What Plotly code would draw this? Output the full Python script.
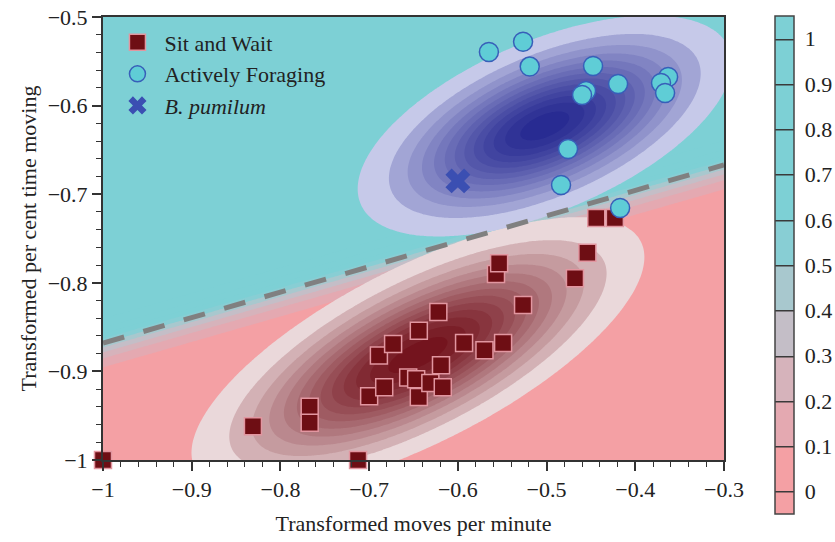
import numpy as np
import plotly.graph_objects as go

# ---------------- data ----------------
sit_x = [-1.0, -0.7125, -0.831, -0.767, -0.767, -0.700, -0.683, -0.689, -0.673,
         -0.656, -0.647, -0.644, -0.631, -0.617, -0.619, -0.644, -0.622, -0.593,
         -0.570, -0.549, -0.5265, -0.557, -0.5535, -0.468, -0.454, -0.444, -0.423]
sit_y = [-1.0, -1.0, -0.962, -0.940, -0.958, -0.928, -0.918, -0.882, -0.869,
         -0.907, -0.909, -0.929, -0.913, -0.918, -0.893, -0.854, -0.833, -0.868,
         -0.876, -0.868, -0.825, -0.790, -0.778, -0.795, -0.766, -0.727, -0.727]

active_x = [-0.565, -0.5265, -0.519, -0.4476, -0.4555, -0.460, -0.4194, -0.363,
            -0.371, -0.3664, -0.4758, -0.4837, -0.4171]
active_y = [-0.5395, -0.528, -0.556, -0.5553, -0.5835, -0.588, -0.5756, -0.5677,
            -0.5745, -0.5858, -0.649, -0.6896, -0.7156]

pumilum_x = [-0.600]
pumilum_y = [-0.685]

# decision boundary (dashed line)
boundary_x = [-1.0, -0.3]
boundary_y = [-0.868, -0.667]

# density ellipses: centre x, centre y, outer semi-major, outer semi-minor, angle (deg)
active_ellipse = [-0.502, -0.623, 0.2255, 0.0959, 23.0]
sit_ellipse = [-0.645, -0.8815, 0.282, 0.0993, 27.0]

x_ticks = [-1.0, -0.9, -0.8, -0.7, -0.6, -0.5, -0.4, -0.3]
y_ticks = [-1.0, -0.9, -0.8, -0.7, -0.6, -0.5]
cbar_ticks = [0, 0.1, 0.2, 0.3, 0.4, 0.5, 0.6, 0.7, 0.8, 0.9, 1]
cbar_labels = ["0", "0.1", "0.2", "0.3", "0.4", "0.5", "0.6", "0.7", "0.8", "0.9", "1"]

# ---------------- styling ----------------
FONT = "Liberation Serif"
FS = 22
PINK = "rgb(244,160,164)"
CYAN = "rgb(125,208,213)"
prob_band_colors = [PINK, "rgb(228,169,177)", "rgb(214,179,187)", "rgb(196,190,199)",
                    "rgb(168,200,206)", "rgb(136,206,212)", CYAN, CYAN, CYAN, CYAN, CYAN]
prob_scale = [[0, PINK]] + [[(i + 1) / 11, c] for i, c in enumerate(prob_band_colors)]


def band_scale(c0, c1, n, gamma):
    sc = [[0, "rgba(255,255,255,0)"]]
    for i in range(n):
        t = (i / (n - 1)) ** gamma
        r, g, b = [round(c0[k] + (c1[k] - c0[k]) * t) for k in range(3)]
        sc.append([(i + 1) / n, f"rgb({r},{g},{b})"])
    return sc


N_LEV = 13
blue_scale = band_scale((198, 201, 233), (40, 43, 146), N_LEV, 0.6)
red_scale = band_scale((234, 216, 218), (116, 20, 30), N_LEV, 0.65)

# ---------------- surfaces on a grid ----------------
gx = np.linspace(-1.0, -0.3, 281)
gy = np.linspace(-1.0, -0.5, 201)
X, Y = np.meshgrid(gx, gy)

slope = (boundary_y[1] - boundary_y[0]) / (boundary_x[1] - boundary_x[0])
yline = boundary_y[0] + slope * (X - boundary_x[0])
prob = 1.0 / (1.0 + np.exp(-80.0 * (Y - yline)))


def density(ell):
    cx, cy, a, b, ang = ell
    t = np.radians(ang)
    dx, dy = X - cx, Y - cy
    u = dx * np.cos(t) + dy * np.sin(t)
    v = -dx * np.sin(t) + dy * np.cos(t)
    sa, sb = a / 2.448, b / 2.448
    return np.exp(-0.5 * ((u / sa) ** 2 + (v / sb) ** 2))


fig = go.Figure()

# probability background
fig.add_trace(go.Contour(
    x=gx, y=gy, z=prob, autocontour=False,
    contours=dict(start=0, end=1, size=0.1, coloring="fill", showlines=False),
    colorscale=prob_scale, showscale=False, line=dict(width=0),
    hoverinfo="skip", showlegend=False))

# density shading
for ell, sc in [(sit_ellipse, red_scale), (active_ellipse, blue_scale)]:
    fig.add_trace(go.Contour(
        x=gx, y=gy, z=density(ell), autocontour=False,
        contours=dict(start=0.05, end=0.95, size=0.075, coloring="fill", showlines=False),
        colorscale=sc, showscale=False, line=dict(width=0),
        hoverinfo="skip", showlegend=False))

# colour bar (carried by an off-screen contour trace so that band lines are drawn in the bar)
fig.add_trace(go.Contour(
    x=[5, 6], y=[5, 6], z=[[0, 1], [0, 1]], autocontour=False,
    contours=dict(start=0, end=1, size=0.1, coloring="fill", showlines=True),
    colorscale=prob_scale, line=dict(width=1.5, color="#3a3a3a"),
    hoverinfo="skip", showlegend=False,
    colorbar=dict(
        x=1.082, xanchor="left", xpad=0, thickness=19,
        y=0.44, yanchor="middle", ypad=0, len=498, lenmode="pixels",
        outlinecolor="#444", outlinewidth=1.5,
        tickmode="array", tickvals=cbar_ticks, ticktext=cbar_labels,
        ticks="outside", ticklen=6, tickcolor="rgba(0,0,0,0)",
        tickfont=dict(family=FONT, size=FS, color="#222"))))

# decision boundary
fig.add_trace(go.Scatter(
    x=boundary_x, y=boundary_y, mode="lines",
    line=dict(color="rgb(128,128,128)", width=5, dash="22px,20px"),
    hoverinfo="skip", showlegend=False))

fig.add_trace(go.Scatter(
    x=sit_x, y=sit_y, mode="markers", name="Sit and Wait",
    marker=dict(symbol="square", size=17, color="rgb(110,14,20)",
                line=dict(color="rgb(226,150,160)", width=1.5)),
    cliponaxis=False))
fig.add_trace(go.Scatter(
    x=active_x, y=active_y, mode="markers", name="Actively Foraging",
    marker=dict(symbol="circle", size=19, color="rgb(95,205,214)",
                line=dict(color="rgb(55,95,185)", width=1.5)),
    cliponaxis=False))
fig.add_trace(go.Scatter(
    x=pumilum_x, y=pumilum_y, mode="markers", name="<i>B. pumilum</i>",
    marker=dict(symbol="x", size=22, color="rgb(59,79,178)", line=dict(width=0))))

axis_common = dict(
    showgrid=False, zeroline=False, showline=True, mirror=True,
    linecolor="#333", linewidth=2, ticks="outside", ticklen=9, tickwidth=1.5,
    tickcolor="#333", tickfont=dict(family=FONT, size=FS, color="#222"),
    tickmode="array", automargin=False,
)

fig.update_xaxes(
    range=[-1.0, -0.3], tickvals=x_ticks,
    minor=dict(dtick=0.02, tick0=-1, ticks="outside", ticklen=5, tickwidth=1, tickcolor="#333"),
    title=dict(text="Transformed moves per minute", font=dict(family=FONT, size=FS, color="#222"),
               standoff=14),
    **axis_common)
fig.update_yaxes(
    range=[-1.0, -0.5], tickvals=y_ticks,
    minor=dict(dtick=0.02, tick0=-1, ticks="outside", ticklen=5, tickwidth=1, tickcolor="#333"),
    title=dict(text="Transformed per cent time moving", font=dict(family=FONT, size=FS, color="#222"),
               standoff=5),
    **axis_common)

fig.update_layout(
    width=835, height=542,
    margin=dict(l=103, r=111, t=17, b=82, autoexpand=False),
    paper_bgcolor="white", plot_bgcolor="white",
    font=dict(family=FONT, size=FS, color="#222"),
    legend=dict(x=0.012, y=0.99, xanchor="left", yanchor="top", itemwidth=44,
                bgcolor="rgba(0,0,0,0)", font=dict(family=FONT, size=FS, color="#222"),
                tracegroupgap=0),
)

# remove the page's default body margin so the figure sits at the window's top-left corner
fig.write_html("out.html", config={"displayModeBar": False},
               post_script="document.body.style.margin='0';document.body.style.overflow='hidden';")
